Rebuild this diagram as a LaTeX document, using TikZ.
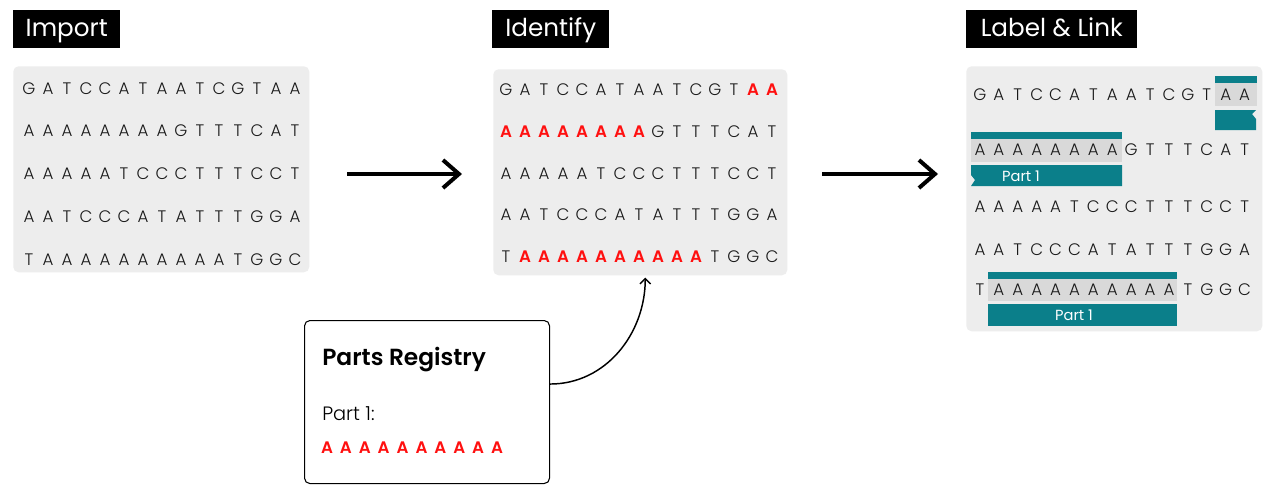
\documentclass[tikz,border=0pt]{standalone}
\usepackage{fontspec}
\setmainfont{Poppins}[BoldFont={Poppins SemiBold}]
\newfontfamily\seqfont{Poppins Light}
\usetikzlibrary{arrows.meta}

\definecolor{panelgray}{HTML}{EDEDED}
\definecolor{hlgray}{HTML}{D9D9D9}
\definecolor{partteal}{HTML}{0B7F8A}
\definecolor{partred}{HTML}{FF1010}
\definecolor{ink}{HTML}{1A1A1A}

\tikzset{
  panel/.style={fill=panelgray, rounded corners=4pt, anchor=north west, inner sep=0pt},
  stagetitle/.style={fill=black, text=white, anchor=north west, inner sep=0pt,
    minimum height=28.5pt, text height=15pt, text depth=3.5pt, font=\fontsize{18.5}{22}\selectfont},
  base/.style={anchor=base, inner sep=0pt, text=ink, font=\fontsize{12.5}{14}\selectfont\seqfont},
  hit/.style={base, text=partred, font=\fontsize{12.5}{14}\selectfont\bfseries},
  stagearrow/.style={line width=3pt, -{Straight Barb[length=12pt,width=21pt]}},
  lookup/.style={line width=1.1pt, -{Straight Barb[length=4pt,width=8pt]}},
  partlabel/.style={text=white, inner sep=0pt, font=\fontsize{11}{13}\selectfont}
}

% prefix, x0, baseline, pitch, first red, last red, bases
\newcommand\dnarow[7]{%
  \foreach \b [count=\i] in {#7} {
    \pgfmathtruncatemacro\isred{and(\i>=#5,\i<=#6)}
    \ifnum\isred=1
      \node[hit] (#1-\i) at ({#2+(\i-1)*#4}, #3) {\b};
    \else
      \node[base] (#1-\i) at ({#2+(\i-1)*#4}, #3) {\b};
    \fi
  }}

\begin{document}
\begin{tikzpicture}[x=0.75pt, y=-0.75pt]
  \useasboundingbox[fill=white] (0,0) rectangle (1274,497);

  \node[stagetitle, minimum width=80.25pt]  (t-imp) at (13,10)  {Import};
  \node[stagetitle, minimum width=87.75pt]  (t-idt) at (492,10) {Identify};
  \node[stagetitle, minimum width=128.25pt] (t-lbl) at (966,10) {Label \& Link};

  \node[panel, minimum width=222pt, minimum height=154.5pt] (imp) at (13,66) {};
  \node[panel, minimum width=220.5pt, minimum height=154.5pt] (idt) at (493,69) {};
  \node[panel, minimum width=222pt, minimum height=198.75pt] (lbl) at (966,66) {};

  % import
  \dnarow{ia}{29}{94}{19}{0}{0}{G,A,T,C,C,A,T,A,A,T,C,G,T,A,A}
  \dnarow{ib}{29}{136}{19}{0}{0}{A,A,A,A,A,A,A,A,G,T,T,T,C,A,T}
  \dnarow{ic}{29}{179}{19}{0}{0}{A,A,A,A,A,T,C,C,C,T,T,T,C,C,T}
  \dnarow{id}{29}{222}{19}{0}{0}{A,A,T,C,C,C,A,T,A,T,T,T,G,G,A}
  \dnarow{ie}{29}{265}{19}{0}{0}{T,A,A,A,A,A,A,A,A,A,A,T,G,G,C}

  % identify
  \dnarow{da}{506}{95}{19}{14}{15}{G,A,T,C,C,A,T,A,A,T,C,G,T,A,A}
  \dnarow{db}{506}{137}{19}{1}{8}{A,A,A,A,A,A,A,A,G,T,T,T,C,A,T}
  \dnarow{dc}{506}{179}{19}{0}{0}{A,A,A,A,A,T,C,C,C,T,T,T,C,C,T}
  \dnarow{dd}{506}{220}{19}{0}{0}{A,A,T,C,C,C,A,T,A,T,T,T,G,G,A}
  \dnarow{de}{506}{262}{19}{2}{11}{T,A,A,A,A,A,A,A,A,A,A,T,G,G,C}

  % label and link
  \fill[hlgray] (1215,83) rectangle (1257,106);
  \fill[partteal] (1215,76) rectangle (1257,83);
  \fill[partteal] (1215,110) -- (1256,110) -- (1252,114) -- (1256,119) -- (1256,130) -- (1215,130) -- cycle;
  \fill[hlgray] (971,139) rectangle (1122,162);
  \fill[partteal] (971,132) rectangle (1122,139);
  \fill[partteal] (971,165) -- (1122,165) -- (1122,186) -- (971,186) -- (975,180) -- (971,175) -- cycle;
  \node[partlabel] (pl-1) at (1021,176) {Part 1};
  \fill[hlgray] (988,279) rectangle (1177,301);
  \fill[partteal] (988,272) rectangle (1177,279);
  \fill[partteal] (988,304) rectangle (1177,326);
  \node[partlabel] (pl-2) at (1074,315) {Part 1};

  \dnarow{la}{980}{100}{18.9}{0}{0}{G,A,T,C,C,A,T,A,A,T,C,G,T,A,A}
  \dnarow{lb}{980}{155}{18.9}{0}{0}{A,A,A,A,A,A,A,A,G,T,T,T,C,A,T}
  \dnarow{lc}{980}{212}{18.9}{0}{0}{A,A,A,A,A,T,C,C,C,T,T,T,C,C,T}
  \dnarow{ld}{980}{255}{18.9}{0}{0}{A,A,T,C,C,C,A,T,A,T,T,T,G,G,A}
  \dnarow{le}{980}{295}{18.9}{0}{0}{T,A,A,A,A,A,A,A,A,A,A,T,G,G,C}

  % registry
  \node[draw=black, line width=0.8pt, rounded corners=4pt, anchor=north west, inner sep=0pt,
    minimum width=183.75pt, minimum height=122.25pt] (reg) at (304,320) {};
  \node[anchor=base west, inner sep=0pt, font=\fontsize{17.5}{20}\selectfont\bfseries] (reg-title) at (322,365) {Parts Registry};
  \node[anchor=base west, inner sep=0pt, font=\fontsize{14.5}{17}\selectfont\seqfont] (reg-part) at (322,420) {Part 1:};
  \dnarow{rg}{327}{453}{18.9}{1}{10}{A,A,A,A,A,A,A,A,A,A}

  \coordinate (a1s) at (347,174);
  \coordinate (a1e) at (462,174);
  \coordinate (a2s) at (822,174);
  \coordinate (a2e) at (938,174);
  \draw[stagearrow] (a1s) -- (a1e);
  \draw[stagearrow] (a2s) -- (a2e);
  \draw[lookup] ([yshift=13.5pt]reg.east) to[out=0, in=-90] ([xshift=3.75pt, yshift=-1.5pt]idt.south);
\end{tikzpicture}
\end{document}
